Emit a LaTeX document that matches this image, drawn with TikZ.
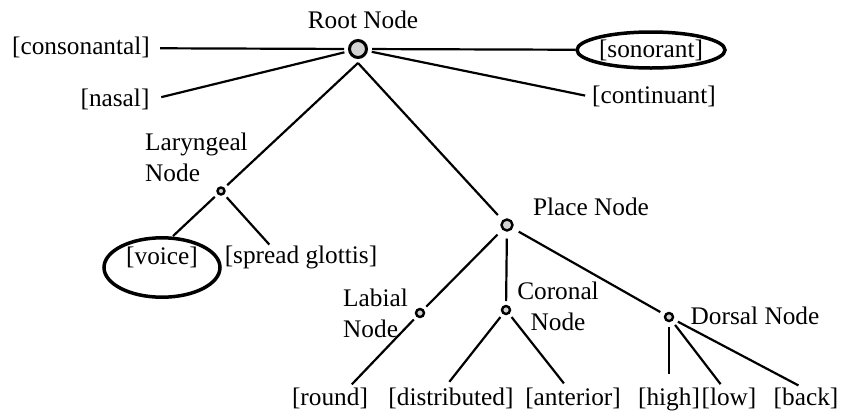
\documentclass[tikz,border=0pt]{standalone}
\usepackage{fontspec}
\setmainfont{Liberation Serif}
\usetikzlibrary{shapes.geometric}
\begin{document}
\begin{tikzpicture}[x=1pt, y=-1pt,
                    font=\fontsize{25.3}{31}\selectfont,
                    feat/.style={inner sep=0, text height=17.5pt, text depth=5.5pt},
                    lbl/.style={inner sep=0, align=#1},
                    lbl/.default=center,
                    knot/.style={circle, draw, line width=2.4pt, fill=gray!35, inner sep=0, minimum size=#1, outer sep=5pt},
                    ring/.style={draw, ellipse, line width=3.5pt, inner sep=0},
                    branch/.style={draw, line width=2.2pt}]
  \useasboundingbox (0,0) rectangle (842,418);
  \node(root_lbl)[lbl] at (363,20) {Root Node};
  \node(root)[knot=17, line width=3pt, outer sep=5.5pt] at (358,49) {};
  \node(cons)[feat] at (81,48) {[consonantal]};
  \node(son)[ring, minimum width=148, minimum height=36] at (651,50) {[sonorant]};
  \node(nasal)[feat] at (115,100) {[nasal]};
  \node(cont)[feat] at (654,97) {[continuant]};
  \node(lar_lbl)[lbl=left, anchor=west] at (145,157) {Laryngeal\\Node};
  \node(lar)[knot=7] at (221,191) {};
  \node(voice)[ring, minimum width=116, minimum height=55, text height=17.5pt, text depth=24.5pt] at (162,267.5) {[voice]};
  \node(spread)[feat] at (301,257) {[spread glottis]};
  \node(place_lbl)[lbl] at (591,207) {Place Node};
  \node(place)[knot=11, outer sep=8pt] at (507,225) {};
  \node(lab_lbl)[lbl=left, anchor=west] at (343,313) {Labial\\Node};
  \node(lab)[knot=8] at (420,313) {};
  \node(cor_lbl)[lbl] at (558,306) {Coronal\\Node};
  \node(cor)[knot=8] at (506,310) {};
  \node(dors_lbl)[lbl] at (755,316) {Dorsal Node};
  \node(dors)[knot=8, outer sep=6pt] at (669,317) {};
  \node(round)[feat] at (330,399) {[round]};
  \node(dist)[feat] at (451,399) {[distributed]};
  \node(ant)[feat] at (573,399) {[anterior]};
  \node(high)[feat] at (669,399) {[high]};
  \node(low)[feat] at (729,399) {[low]};
  \node(back)[feat] at (806,399) {[back]};
  \draw[branch, shorten <=10pt] (cons) -- (root);
  \draw[branch] (root) -- (son);
  \draw[branch, shorten <=12pt] (nasal.east) -- (root);
  \draw[branch, shorten >=7pt] (root) -- (cont.west);
  \draw[branch] (root.south) -- (lar);
  \draw[branch] (root.south) -- (place);
  \draw[branch] (lar) -- ([xshift=11pt]voice.north);
  \draw[branch, shorten >=1pt] (lar) -- ([xshift=-31pt]spread.north);
  \draw[branch] (place) -- (lab);
  \draw[branch] (place) -- (cor);
  \draw[branch] (place) -- (dors);
  \draw[branch, shorten >=4pt] (lab) -- ([xshift=19pt]round.north);
  \draw[branch, shorten >=7pt] (cor) -- ([xshift=-6pt]dist.north);
  \draw[branch, shorten >=5pt] (cor) -- ([xshift=-6pt]ant.north);
  \draw[branch, shorten >=13pt] (dors) -- (high.north);
  \draw[branch, shorten >=4pt] (dors) -- ([xshift=-6pt]low.north);
  \draw[branch, shorten >=4pt] (dors) -- ([xshift=-4pt]back.north);
\end{tikzpicture}
\end{document}
